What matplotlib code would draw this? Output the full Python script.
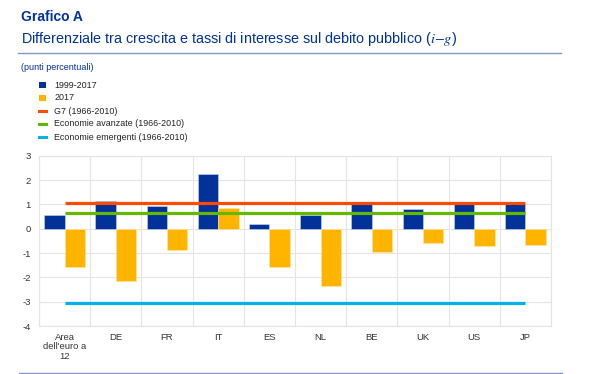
import numpy as np
import matplotlib
matplotlib.use("Agg")
import matplotlib.pyplot as plt
from matplotlib.patches import Rectangle
from matplotlib.lines import Line2D

plt.rcParams['font.family'] = ['Liberation Sans', 'DejaVu Sans']
plt.rcParams['mathtext.fontset'] = 'stix'

# data
categories = ["Area\ndell'euro a\n12", "DE", "FR", "IT", "ES", "NL", "BE", "UK", "US", "JP"]
avg_1999_2017 = [0.56, 1.14, 0.93, 2.25, 0.19, 0.56, 1.0, 0.79, 1.0, 1.0]
val_2017 = [-1.56, -2.14, -0.88, 0.85, -1.56, -2.37, -0.97, -0.60, -0.73, -0.67]
g7 = 1.06
avanzate = 0.65
emergenti = -3.07
legend_labels = ["1999-2017", "2017", "G7 (1966-2010)",
                 "Economie avanzate (1966-2010)", "Economie emergenti (1966-2010)"]

BLUE = '#003299'
ORANGE = '#FFB400'
RED = '#FF4B00'
GREEN = '#65B800'
CYAN = '#00B1EA'
GRID = '#E4E4E4'
W, H = 600, 374

fig = plt.figure(figsize=(6, 3.74), dpi=100)


def fx(px):
    return px / W


def fy(py):
    return 1 - py / H


# titles and rules
fig.text(fx(21), fy(17), "Grafico A", fontsize=10, fontweight='bold',
         color=BLUE, va='center', ha='left')
fig.text(fx(21), fy(39), r"Differenziale tra crescita e tassi di interesse sul debito pubblico ($i$$-$$g$)",
         fontsize=10.4, color=BLUE, va='center', ha='left')
fig.add_artist(Line2D([fx(18), fx(561)], [fy(53), fy(53)], color='#7F95CC', lw=1.0))
fig.text(fx(21), fy(68), "(punti percentuali)", fontsize=6.5, color=BLUE,
         va='center', ha='left')
fig.add_artist(Line2D([fx(19), fx(562)], [fy(373), fy(373)], color='#7F95CC', lw=1.0))

# legend drawn by hand
leg_y = [85, 98, 111, 124, 137]
leg_colors = [BLUE, ORANGE, RED, GREEN, CYAN]
for i, (lab, col) in enumerate(zip(legend_labels, leg_colors)):
    y = leg_y[i]
    if i < 2:
        fig.add_artist(Rectangle((fx(39), fy(y + 3)), fx(6.5), 6.5 / H,
                                 facecolor=col, edgecolor='none'))
    else:
        fig.add_artist(Line2D([fx(39), fx(46)], [fy(y), fy(y)], color=col, lw=2.2))
    fig.text(fx(54.5), fy(y), lab, fontsize=6.4, color='#222222', va='center', ha='left')

# chart area
ax = fig.add_axes([fx(39), fy(326), fx(551) - fx(39), (326 - 155.7) / H])
x = np.arange(len(categories))
ax.bar(x - 0.2, avg_1999_2017, width=0.4, color=BLUE, edgecolor='#D0D6EA',
       linewidth=0.4, zorder=2)
ax.bar(x + 0.2, val_2017, width=0.4, color=ORANGE, edgecolor='#FFE7A8',
       linewidth=0.4, zorder=2)
ax.hlines([g7], x[0], x[-1], color=RED, lw=2.3, zorder=3)
ax.hlines([avanzate], x[0], x[-1], color=GREEN, lw=2.3, zorder=3)
ax.hlines([emergenti], x[0], x[-1], color=CYAN, lw=2.3, zorder=3)

ax.set_xlim(-0.5, len(categories) - 0.5)
ax.set_ylim(-4, 3)
ax.set_yticks(range(-4, 4))
ax.set_yticklabels([str(v) for v in range(-4, 4)], fontsize=6.8, color='#333333')
ax.set_xticks(x)
ax.set_xticklabels(categories, fontsize=6.8, color='#333333', linespacing=1.05)
ax.set_xticks(np.arange(-0.5, len(categories), 1), minor=True)
ax.tick_params(which='both', length=0)
ax.tick_params(axis='y', pad=6)
ax.tick_params(axis='x', pad=5)
ax.grid(True, axis='y', which='major', color=GRID, lw=0.8, zorder=0)
ax.grid(True, axis='x', which='minor', color=GRID, lw=0.8, zorder=0)
ax.set_axisbelow(True)
for s in ax.spines.values():
    s.set_color(GRID)
    s.set_linewidth(0.8)

fig.savefig("out.png", dpi=100)
